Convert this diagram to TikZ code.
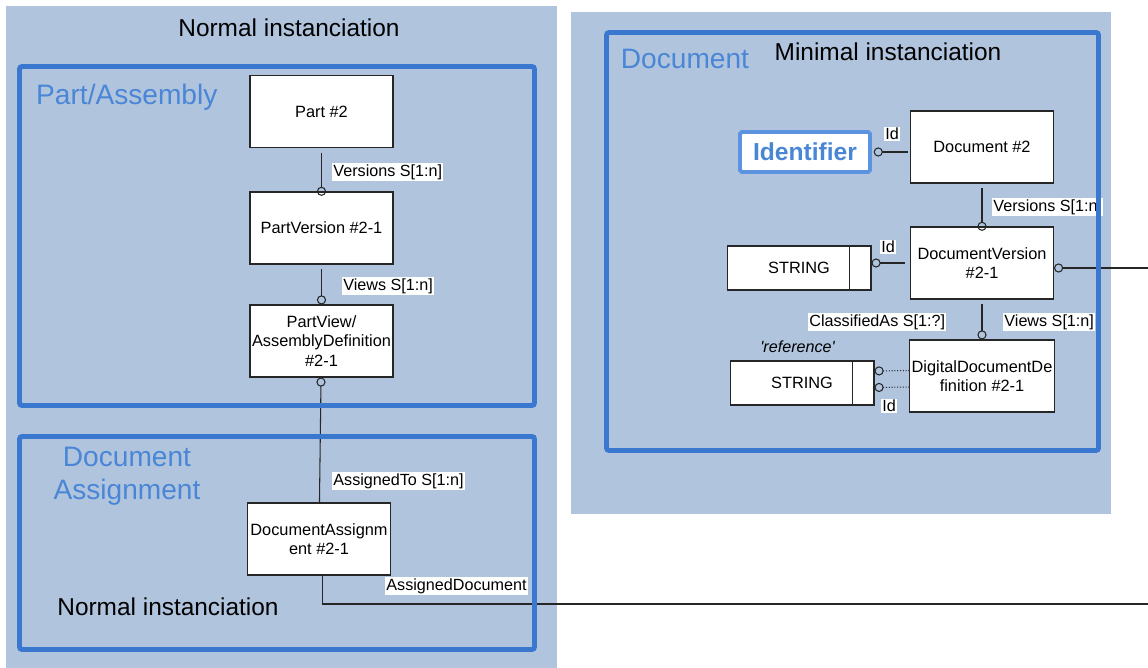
\documentclass[tikz,border=0pt]{standalone}
\usepackage{fontspec}
\setmainfont{Liberation Sans}
\usetikzlibrary{arrows.meta,calc}

\definecolor{panelgray}{RGB}{176,196,222}
\definecolor{framebl}{RGB}{58,120,208}
\definecolor{titlebl}{RGB}{74,134,214}
\definecolor{identbl}{RGB}{91,147,222}

\begin{document}
\begin{tikzpicture}[
    x=0.02cm, y=-0.02cm,
    panel/.style={fill=panelgray, draw=none},
    frame/.style={draw=framebl, line width=2.8pt, rounded corners=1.5pt},
    entity/.style={draw=black!85, fill=white, line width=0.6pt, minimum width=2.86cm,
      minimum height=1.44cm, inner xsep=1pt, align=center, font=\fontsize{9.3}{11.2}\selectfont},
    strbox/.style={draw=black!85, fill=white, line width=0.6pt, minimum width=2.88cm,
      minimum height=0.88cm, font=\fontsize{9.3}{11.2}\selectfont},
    ident/.style={draw=identbl, fill=white, line width=2.2pt, rounded corners=1pt,
      minimum width=2.6cm, minimum height=0.8cm, text=titlebl,
      font=\fontsize{14}{16}\selectfont\bfseries},
    lbl/.style={fill=white, inner sep=0.6pt, anchor=west, font=\fontsize{9.2}{11}\selectfont},
    title/.style={font=\fontsize{13.9}{16}\selectfont},
    area/.style={text=titlebl, align=center, font=\fontsize{16}{19}\selectfont},
    link/.style={draw=black!85, line width=0.6pt},
    ring/.tip={Circle[open,length=5.2pt]}]

    \useasboundingbox (0,0) rectangle (1148,668);

    % grey areas
    \path[panel] (6,6) rectangle (557,668);
    \path[panel] (571,12) rectangle (1111,514);

    \node[title] (normtop) at (289,28) {Normal instanciation};
    \node[title] (minim) at (888,52) {Minimal instanciation};
    \node[title] (normbot) at (168,607) {Normal instanciation};
    \node[area, anchor=west] (partarea) at (30,97) {Part/Assembly};
    \node[area] (docarea) at (685,59) {Document};
    \node[area] (assarea) at (127,476) {Document\\Assignment};

    % left side
    \node[entity] (part) at (321.5,111.5) {Part \#2};
    \node[entity] (pver) at (321.5,228) {PartVersion \#2-1};
    \node[entity] (pview) at (321.5,341) {PartView/\\AssemblyDefinition\\\#2-1};
    \node[entity] (dass) at (319,539) {DocumentAssignm\\ent \#2-1};
    \coordinate (dassout) at (1148,604);

    % right side
    \node[ident] (ident) at (805,152) {Identifier};
    \node[entity] (doc) at (982,147) {Document \#2};
    \node[entity] (dver) at (982,263) {DocumentVersion\\\#2-1};
    \node[strbox] (str1) at (799,268) {STRING\hspace{12.5pt}};
    \node[entity] (ddd) at (982,376) {DigitalDocumentDe\\finition \#2-1};
    \node[strbox] (str2) at (802,383) {STRING\hspace{12.5pt}};
    \coordinate (dverout) at (1148,268);

    \draw[link] ($(str1.north east)+(-22,0)$) -- ($(str1.south east)+(-22,0)$);
    \draw[link] ($(str2.north east)+(-22,0)$) -- ($(str2.south east)+(-22,0)$);

    % links
    \draw[link, -ring, shorten <=2.8pt, shorten >=-2.5pt] (part) -- (pver);
    \draw[link, -ring, shorten <=2.8pt] (pver) -- (pview);
    \draw[link, ring-] (pview) -- (dass);
    \draw[link] ([xshift=2pt]dass.south) |- (dassout);

    \draw[link, ring-, shorten <=1pt, shorten >=1pt] (ident.east) -- (ident.east -| doc.west);
    \draw[link, -ring, shorten <=2.8pt, shorten >=-2.5pt] (doc) -- (dver);
    \draw[link, ring-, shorten >=2.8pt] (str1.east |- dver.west) -- (dver.west);
    \draw[link, ring-] (dver.east |- dverout) -- (dverout);
    \draw[link, -ring, shorten <=2.3pt] (dver) -- (ddd);
    \draw[link, densely dotted, ring-] ($(str2.east)+(0,-12)$) -- ($(ddd.west)+(0,-5.5)$);
    \draw[link, densely dotted, ring-] ($(str2.east)+(0,4.5)$) -- ($(ddd.west)+(0,11)$);

    % role names
    \node[lbl] (lver1) at (332,172) {Versions S[1:n]};
    \node[lbl] (lview1) at (342,286) {Views S[1:n]};
    \node[lbl] (lassto) at (332,481) {AssignedTo S[1:n]};
    \node[lbl] (lassdoc) at (385,586) {AssignedDocument};
    \node[lbl] (lid1) at (884,134) {Id};
    \node[lbl] (lver2) at (992,207) {Versions S[1:n]};
    \node[lbl] (lid2) at (880,247) {Id};
    \node[lbl] (lclass) at (808,322) {ClassifiedAs S[1:?]};
    \node[lbl] (lview2) at (1003,322) {Views S[1:n]};
    \node[font=\fontsize{9.2}{11}\selectfont\itshape, anchor=west, inner sep=0pt] (lref)
      at (760,347) {\textquotesingle reference\textquotesingle};
    \node[lbl] (lid3) at (881,406) {Id};

    % blue frames
    \draw[frame] (19.5,66.5) rectangle (534.5,405.5);
    \draw[frame] (19.5,436.5) rectangle (534.5,649.5);
    \draw[frame] (606.5,32.5) rectangle (1098.5,450.5);
\end{tikzpicture}
\end{document}
